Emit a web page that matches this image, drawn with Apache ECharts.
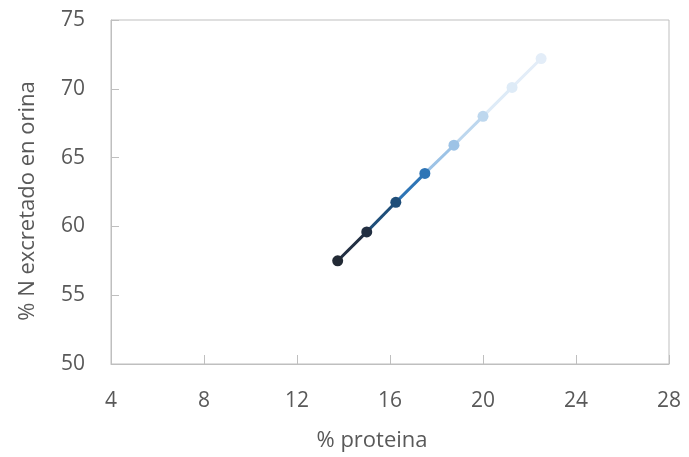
<!DOCTYPE html>
<html>
<head>
<meta charset="utf-8">
<script src="https://cdn.jsdelivr.net/npm/echarts@6/dist/echarts.min.js"></script>
<style>html,body{margin:0;padding:0;background:#fff}#c{width:689px;height:457px}</style>
</head>
<body>
<div id="c"></div>
<script>
var xValues = [13.75, 15.0, 16.25, 17.5, 18.75, 20.0, 21.25, 22.5];
var yValues = [57.5, 59.6, 61.75, 63.85, 65.9, 68.0, 70.1, 72.2];
var pointColors = ['#222a35', '#222f42', '#1f4e79', '#2e75b6', '#9dc3e6', '#bdd7ee', '#deebf7', '#e3edf8'];
var xTicks = [4, 8, 12, 16, 20, 24, 28];
var yTicks = [50, 55, 60, 65, 70, 75];

var FONT = 'Open Sans';
var series = [];
for (var i = 1; i < xValues.length; i++) {
  series.push({
    type: 'line',
    data: [[xValues[i-1], yValues[i-1]], [xValues[i], yValues[i]]],
    symbol: 'none',
    lineStyle: { color: pointColors[i], width: 3 },
    z: 2,
    silent: true
  });
}
series.push({
  type: 'scatter',
  data: xValues.map(function (x, i) {
    return { value: [x, yValues[i]], itemStyle: { color: pointColors[i], opacity: 1 } };
  }),
  symbolSize: 11,
  itemStyle: { opacity: 1 },
  z: 3
});

var chart = echarts.init(document.getElementById('c'), null, { renderer: 'canvas' });
chart.setOption({
  animation: false,
  backgroundColor: '#ffffff',
  grid: { left: 111, right: 20, top: 20, bottom: 91, show: true, borderColor: '#bfbfbf', borderWidth: 1, containLabel: false },
  xAxis: {
    type: 'value',
    min: xTicks[0], max: xTicks[xTicks.length - 1], interval: 4,
    name: '% proteina', nameLocation: 'middle', nameGap: 66,
    nameTextStyle: { fontFamily: FONT, fontSize: 22, color: '#595959', padding: [0, 36, 0, 0] },
    axisLine: { show: true, lineStyle: { color: '#bfbfbf' } },
    axisTick: { show: true, inside: true, length: 9, lineStyle: { color: '#bfbfbf' } },
    axisLabel: { fontFamily: FONT, fontSize: 21, color: '#595959', margin: 27 },
    splitLine: { show: false }
  },
  yAxis: {
    type: 'value',
    min: yTicks[0], max: yTicks[yTicks.length - 1], interval: 5,
    name: '% N excretado en orina', nameLocation: 'middle', nameGap: 72,
    nameTextStyle: { fontFamily: FONT, fontSize: 22, color: '#595959', padding: [0, 18, 0, 0] },
    axisLine: { show: true, lineStyle: { color: '#bfbfbf' } },
    axisTick: { show: true, inside: true, length: 8, lineStyle: { color: '#bfbfbf' } },
    axisLabel: { fontFamily: FONT, fontSize: 21, color: '#595959', margin: 26 },
    splitLine: { show: false }
  },
  series: series
});
</script>
</body>
</html>
